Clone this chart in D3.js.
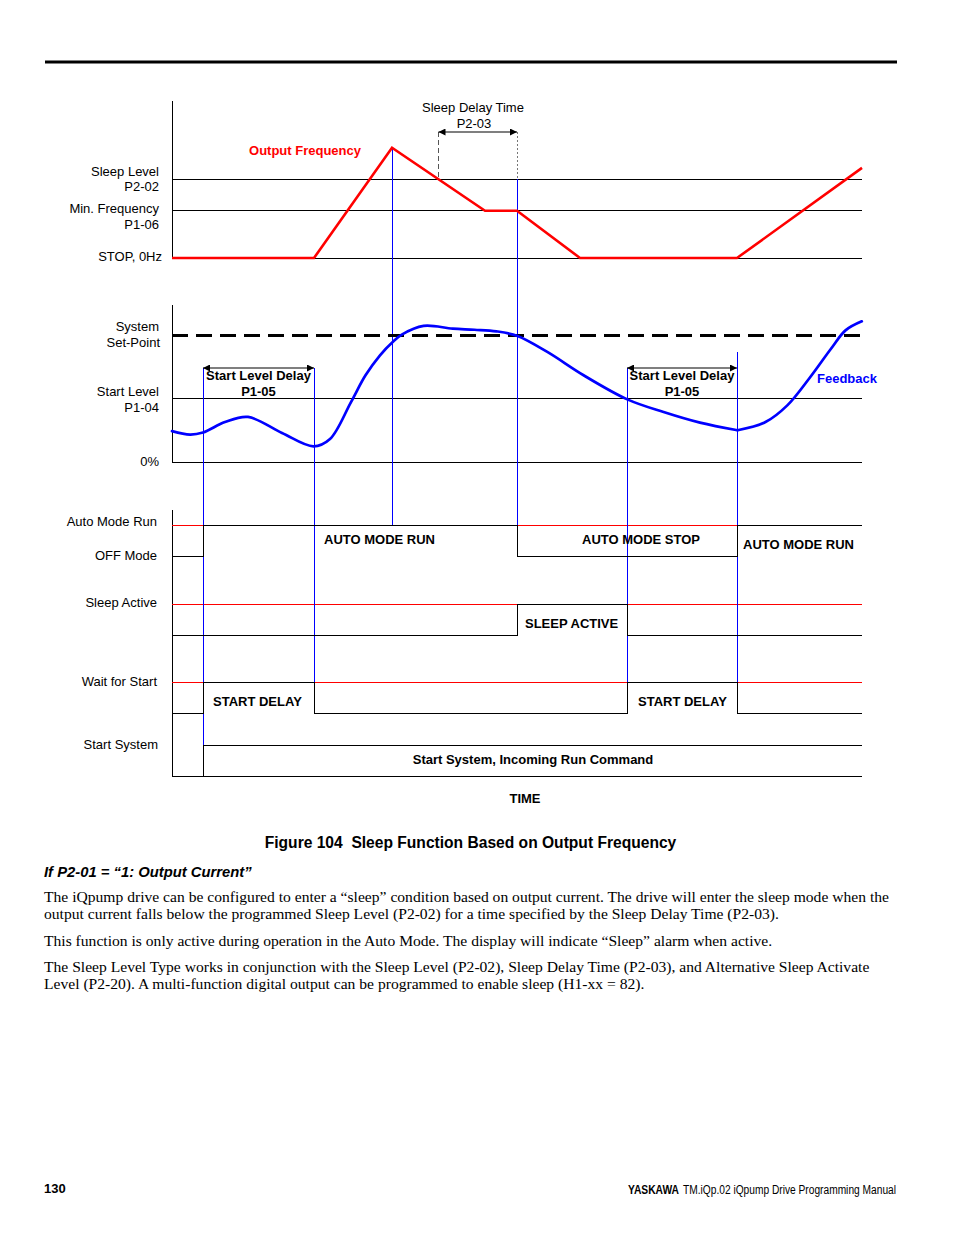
<!DOCTYPE html>
<html><head><meta charset="utf-8">
<script src="https://cdn.jsdelivr.net/npm/d3@7"></script>
<style>
html,body{margin:0;padding:0;background:#fff;}
svg{display:block;}
</style></head>
<body>
<svg id="c" width="954" height="1235"></svg>
<script>
// ---------------- DATA ----------------
// time axis (arbitrary seconds)
const timeDomain = [0, 69];
// key event times
const tStartCmd = 3.1, tDelayEnd = 14.2, tPeak = 22, tSleepCross = 26.65,
      tSleep = 34.5, tStartLevel2 = 45.5, tRestart = 56.5;

// Output frequency (Hz)
const freqTimes = [0, 14.2, 22, 31.3, 34.5, 40.8, 56.5, 69];
const freqHz    = [0, 0,    35, 15,   15,   0,    0,    28.6];
const freqDomain = [0, 50];
const sleepLevelHz = 25, minFreqHz = 15, stopHz = 0;

// Feedback (%)
const fbDomain = [0, 99];
const setPointPct = 80, startLevelPct = 40, zeroPct = 0;
const fbTimesA = [0, 1.8, 3.1, 5.3, 7.6, 11.0, 14.15, 15.8, 17.9, 19.35, 20.8, 22.07, 22.98, 25.16, 28.07, 30.25, 32.44, 34.55, 37.53, 41.16, 45.53, 49.16, 52.8, 56.55];
const fbPctA   = [19.5, 17.3, 18.6, 25.2, 28.4, 18.3, 9.9, 14.5, 37.8, 54.7, 67.3, 75.7, 80.3, 85.8, 84.1, 83.4, 82.4, 79.5, 69.4, 54.7, 39.5, 31.5, 24.8, 20.0];
const fbTimesB = [56.55, 59.35, 61.53, 63.7, 65.9, 67.35, 68.98];
const fbPctB   = [20.0, 25.2, 35.7, 52.5, 71.4, 83.0, 88.7];

// Digital signals: [time, state]
const autoModeSig  = [[0,0],[3.1,1],[34.5,0],[56.5,1],[69,1]];
const sleepSig     = [[0,0],[34.5,1],[45.5,0],[69,0]];
const waitSig      = [[0,0],[3.1,1],[14.2,0],[45.5,1],[56.5,0],[69,0]];
const startSysSig  = [[0,0],[3.1,1],[69,1]];

// Labels
const freqLabels = [["Sleep Level","P2-02"],["Min. Frequency","P1-06"],["STOP, 0Hz"]];
const fbLabels = [["System","Set-Point"],["Start Level","P1-04"],["0%"]];
const rowLabels = ["Auto Mode Run","OFF Mode","Sleep Active","Wait for Start","Start System"];
const bodyLines = [
 "The iQpump drive can be configured to enter a \u201Csleep\u201D condition based on output current. The drive will enter the sleep mode when the",
 "output current falls below the programmed Sleep Level (P2-02) for a time specified by the Sleep Delay Time (P2-03).",
 "This function is only active during operation in the Auto Mode. The display will indicate \u201CSleep\u201D alarm when active.",
 "The Sleep Level Type works in conjunction with the Sleep Level (P2-02), Sleep Delay Time (P2-03), and Alternative Sleep Activate",
 "Level (P2-20). A multi-function digital output can be programmed to enable sleep (H1-xx = 82)."
];

// ---------------- LAYOUT ----------------
const svg = d3.select("#c");
const RED = "#ff0000", BLUE = "#0000ff";
const SANS = "'Liberation Sans', Arial, Helvetica, sans-serif";
const SERIF = "'Liberation Serif', 'Times New Roman', serif";

const x = d3.scaleLinear().domain(timeDomain).range([172, 862]);
const yF = d3.scaleLinear().domain(freqDomain).range([258, 100.5]);
const yP = d3.scaleLinear().domain(fbDomain).range([462, 305]);
const rowHigh = {auto:525, sleep:604, wait:682, sys:745};
const rowH = 31;
const modeTop = 510;

// top rule
svg.append("line").attr("x1",45).attr("x2",897).attr("y1",62).attr("y2",62)
  .attr("stroke","#000").attr("stroke-width",3);

// markers
const defs = svg.append("defs");
defs.append("marker").attr("id","arr").attr("viewBox","0 0 10 10").attr("refX",10).attr("refY",5)
  .attr("markerWidth",9).attr("markerHeight",7).attr("markerUnits","userSpaceOnUse")
  .attr("orient","auto-start-reverse")
  .append("path").attr("d","M0,0 L10,5 L0,10 z").attr("fill","#000");

const g = svg.append("g");
function hline(y, x0, x1, color, w, dash){
  const l = g.append("line").attr("x1",x0).attr("x2",x1).attr("y1",y).attr("y2",y)
   .attr("stroke",color).attr("stroke-width",w||1).attr("shape-rendering","crispEdges");
  if(dash) l.attr("stroke-dasharray",dash);
  return l;
}
function vline(xx, y0, y1, color, w, dash){
  const l = g.append("line").attr("x1",xx).attr("x2",xx).attr("y1",y0).attr("y2",y1)
   .attr("stroke",color).attr("stroke-width",w||1).attr("shape-rendering","crispEdges");
  if(dash) l.attr("stroke-dasharray",dash);
  return l;
}
function text(s, xx, yy, opts){
  opts = opts||{};
  return g.append("text").attr("x",xx).attr("y",yy).text(s)
    .attr("font-family",opts.family||SANS).attr("font-size",opts.size||13)
    .attr("font-weight",opts.bold?"bold":"normal")
    .attr("font-style",opts.italic?"italic":"normal")
    .attr("text-anchor",opts.anchor||"start").attr("fill",opts.color||"#000");
}

// ---------- Panel 1: output frequency ----------
vline(x(0), yF(freqDomain[1]), yF(0), "#000");
[sleepLevelHz, minFreqHz, stopHz].forEach(v => hline(yF(v), x(0), x(timeDomain[1]), "#000"));

// ---------- Panel 2: feedback ----------
vline(x(0), yP(fbDomain[1]), yP(0), "#000");
hline(yP(startLevelPct), x(0), x(timeDomain[1]), "#000");
hline(yP(zeroPct), x(0), x(timeDomain[1]), "#000");

// ---------- Panel 3: modes ----------
vline(x(0), modeTop, rowHigh.sys + rowH, "#000");
// red reference lines
[rowHigh.auto, rowHigh.sleep, rowHigh.wait].forEach(y => hline(y, x(0), x(timeDomain[1]), RED));
// baseline
hline(rowHigh.sys + rowH, x(0), x(timeDomain[1]), "#000");

// ---------- blue event lines ----------
const arrowY = 368;
vline(x(tStartCmd), arrowY, rowHigh.sys, BLUE);
vline(x(tDelayEnd), arrowY, rowHigh.wait + rowH, BLUE);
vline(x(tPeak), yF(freqHz[2]), rowHigh.auto, BLUE);
vline(x(tSleep), yF(sleepLevelHz), rowHigh.auto + rowH, BLUE);
vline(x(tStartLevel2), arrowY, rowHigh.wait + 16, BLUE);
vline(x(tRestart), 352, rowHigh.wait, BLUE);

// sleep delay time markers
vline(x(tSleepCross), 132, yF(sleepLevelHz), "#555", 1, "5,3");
vline(x(tSleep), 132, yF(sleepLevelHz), "#777", 1, "2,2");
g.append("line").attr("x1",x(tSleepCross)).attr("x2",x(tSleep)).attr("y1",132).attr("y2",132)
  .attr("stroke","#000").attr("stroke-width",1.2)
  .attr("marker-start","url(#arr)").attr("marker-end","url(#arr)");
text("Sleep Delay Time", 473, 112, {anchor:"middle"});
text("P2-03", 474, 128, {anchor:"middle"});

// start level delay arrows
[[tStartCmd, tDelayEnd],[tStartLevel2, tRestart]].forEach(([a,b]) => {
  g.append("line").attr("x1",x(a)).attr("x2",x(b)).attr("y1",arrowY).attr("y2",arrowY)
   .attr("stroke","#000").attr("stroke-width",1.2)
   .attr("marker-start","url(#arr)").attr("marker-end","url(#arr)");
  text("Start Level Delay", (x(a)+x(b))/2, 380, {anchor:"middle", bold:true});
  text("P1-05", (x(a)+x(b))/2, 396, {anchor:"middle", bold:true});
});

// set point dashed line
hline(yP(setPointPct), x(0), x(timeDomain[1]), "#000", 3, "16,8");

// digital step signals (black)
function stepPath(sig, top){
  const ys = d3.scaleLinear().domain([0,1]).range([top + rowH, top]);
  const line = d3.line().x(d => x(d[0])).y(d => ys(d[1])).curve(d3.curveStepAfter);
  g.append("path").attr("d", line(sig)).attr("fill","none").attr("stroke","#000")
   .attr("stroke-width",1).attr("shape-rendering","crispEdges");
}
stepPath(autoModeSig, rowHigh.auto);
stepPath(sleepSig, rowHigh.sleep);
stepPath(waitSig, rowHigh.wait);
stepPath(startSysSig, rowHigh.sys);

// frequency curve
const fLine = d3.line().x(d => x(d[0])).y(d => yF(d[1]));
g.append("path").attr("d", fLine(d3.zip(freqTimes, freqHz)))
  .attr("fill","none").attr("stroke",RED).attr("stroke-width",2.6).attr("stroke-linejoin","miter");

// feedback curve
const pLine = d3.line().x(d => x(d[0])).y(d => yP(d[1])).curve(d3.curveCatmullRom.alpha(0.5));
[[fbTimesA, fbPctA],[fbTimesB, fbPctB]].forEach(([t,p]) => {
  g.append("path").attr("d", pLine(d3.zip(t,p)))
   .attr("fill","none").attr("stroke",BLUE).attr("stroke-width",2.7).attr("stroke-linecap","round");
});

// ---------- labels ----------
text("Output Frequency", 305, 155, {anchor:"middle", bold:true, color:RED});
text("Feedback", 817, 383, {bold:true, color:BLUE});

const fLabY = [[175.5,191],[213,229],[261]];
freqLabels.forEach((ls,i) => ls.forEach((s,j) => text(s, i===2?162:159, fLabY[i][j], {anchor:"end"})));
const pLabY = [[331,347],[396,412],[466]];
fbLabels.forEach((ls,i) => ls.forEach((s,j) => text(s, (i===0&&j===1)?160:159, pLabY[i][j], {anchor:"end"})));
const rLabY = [526,560,607,686,749];
rowLabels.forEach((s,i) => text(s, i===4?158:157, rLabY[i], {anchor:"end"}));

text("AUTO MODE RUN", 324, 544, {bold:true});
text("AUTO MODE STOP", 641, 544, {bold:true, anchor:"middle"});
text("AUTO MODE RUN", 743, 549, {bold:true});
text("SLEEP ACTIVE", 525, 628, {bold:true});
text("START DELAY", 213, 706, {bold:true});
text("START DELAY", 638, 706, {bold:true});
text("Start System, Incoming Run Command", 533, 764, {bold:true, anchor:"middle"});
text("TIME", 525, 803, {bold:true, anchor:"middle"});

// caption & body
text("Figure 104  Sleep Function Based on Output Frequency", 470.5, 848, {bold:true, size:15.6, anchor:"middle"}).style("white-space","pre");
text("If P2-01 = \u201C1: Output Current\u201D", 44, 877, {bold:true, italic:true, size:14.8});
const bodyY = [902, 919, 946, 972, 989];
bodyLines.forEach((s,i) => text(s, 44, bodyY[i], {family:SERIF, size:15.6}));

// footer
text("130", 44, 1193, {bold:true, size:13});
text("YASKAWA", 628, 1194, {bold:true, size:12}).attr("textLength",51).attr("lengthAdjust","spacingAndGlyphs");
text("TM.iQp.02 iQpump Drive Programming Manual", 683, 1194, {size:12}).attr("textLength",213).attr("lengthAdjust","spacingAndGlyphs");
</script>
</body></html>
